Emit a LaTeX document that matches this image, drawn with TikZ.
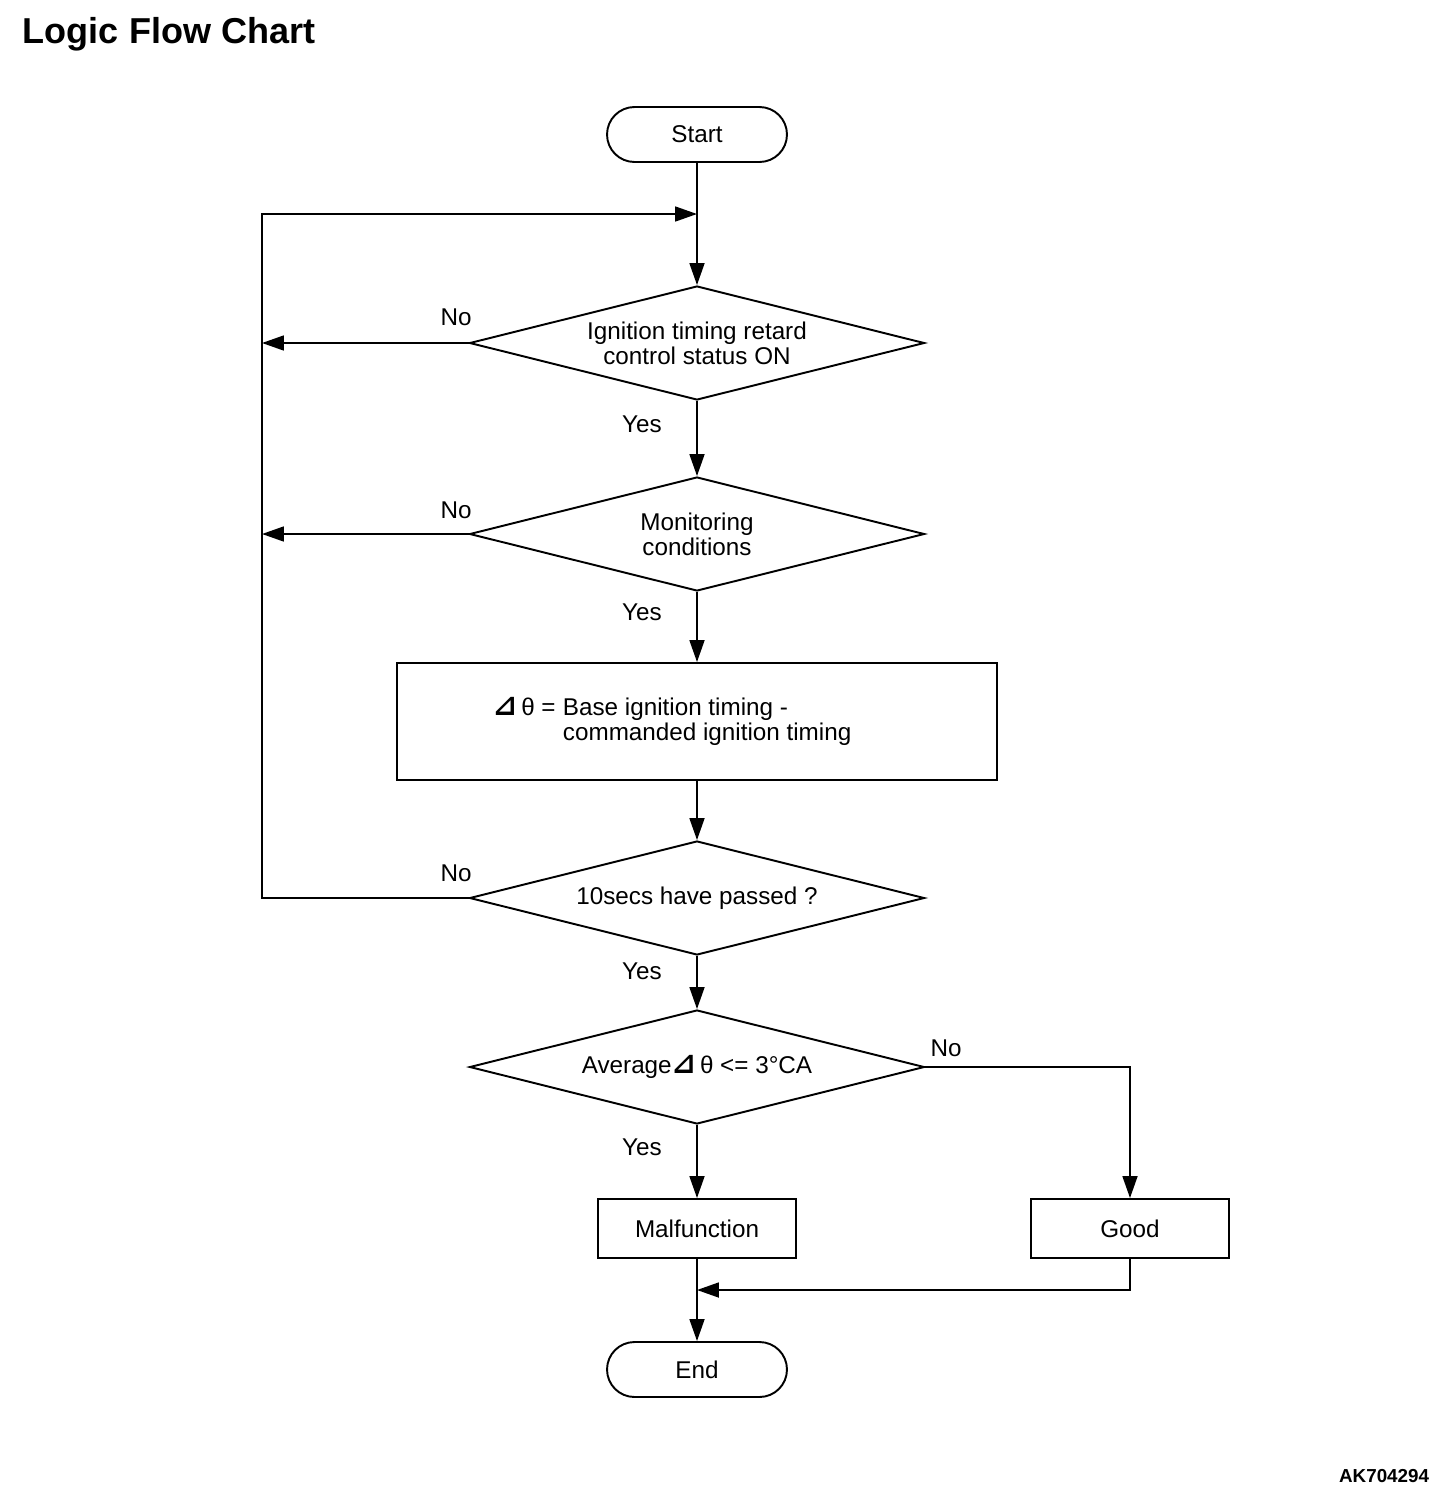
\documentclass[tikz,border=0pt]{standalone}
\usepackage{fontspec}
\setmainfont{Liberation Sans}
\newfontfamily\trifont{DejaVu Sans}
\usetikzlibrary{shapes.geometric,arrows.meta}
\newcommand{\dtheta}{{\trifont\bfseries\fontsize{16.5}{14}\selectfont ⊿}\,θ}
\begin{document}
\begin{tikzpicture}[x=0.02cm,y=-0.02cm,line width=1.1pt,>={Triangle[length=12.5pt,width=8.5pt]},font=\fontsize{13.8}{14.2}\selectfont]
		\tikzstyle{term}=[draw,rounded corners=0.55cm,minimum width=3.6cm,minimum height=1.1cm,inner sep=0pt,text depth=-1pt]
		\tikzstyle{test}=[draw,diamond,shape aspect=4,minimum width=9.1cm,minimum height=2.28cm,inner sep=0pt,align=center]
		\tikzstyle{proc}=[draw,minimum width=3.96cm,minimum height=1.18cm,inner sep=0pt]
		\useasboundingbox (0,0) rectangle (1456,1498);
		\node[anchor=base west,inner sep=0pt,font=\fontsize{20.5}{24}\selectfont\bfseries] (f_title) at (22,43) {Logic Flow Chart};
		\node[anchor=base east,inner sep=0pt,font=\fontsize{10.7}{12}\selectfont\bfseries] (f_code) at (1430,1482) {AK704294};
		\node[term] (f_start) at (697,134.5) {Start};
		\node[test] (f_1) at (697,343) {Ignition timing retard\\control status ON};
		\node[test] (f_2) at (697,534) {Monitoring\\conditions};
		\node[draw,minimum width=12.02cm,minimum height=2.34cm] (f_box) at (697,721.5) {};
		\node[anchor=west,align=left,inner sep=0pt] (f_calc) at (492,721) {\makebox[1.4cm][l]{\dtheta{} =}Base ignition timing -\\\hspace*{1.4cm}commanded ignition timing};
		\node[test] (f_3) at (697,898) {10secs have passed ?};
		\node[test] (f_4) at (697,1067) {Average\dtheta{} <= 3°CA};
		\node[proc] (f_bad) at (697,1228.5) {Malfunction};
		\node[proc] (f_good) at (1130,1228.5) {Good};
		\node[term] (f_end) at (697,1369.5) {End};
		\coordinate (l_top) at (262,214);
		\coordinate (l_1) at (262,343);
		\coordinate (l_2) at (262,534);
		\coordinate (l_3) at (262,898);
		\coordinate (j_top) at (697,214);
		\coordinate (g_turn) at (1130,1067);
		\coordinate (g_low) at (1130,1290);
		\coordinate (j_end) at (697,1290);
		\node (n_1) at (456,317) {No};
		\node (n_2) at (456,510) {No};
		\node (n_3) at (456,873) {No};
		\node (n_4) at (946,1048) {No};
		\node (y_1) at (642,424) {Yes};
		\node (y_2) at (642,612) {Yes};
		\node (y_3) at (642,971) {Yes};
		\node (y_4) at (642,1147) {Yes};
		\draw[->] (f_start) -- (f_1);
		\draw[->] (f_1) -- (f_2);
		\draw[->] (f_2) -- (f_box);
		\draw[->] (f_box) -- (f_3);
		\draw[->] (f_3) -- (f_4);
		\draw[->] (f_4) -- (f_bad);
		\draw[->] (f_bad) -- (f_end);
		\draw[->] (f_1.west) -- (l_1);
		\draw[->] (f_2.west) -- (l_2);
		\draw[->] (f_3.west) -- (l_3) -- (l_top) -- (j_top);
		\draw[->] (f_4.east) -- (g_turn) -- (f_good);
		\draw[->] (f_good) -- (g_low) -- (j_end);
	\end{tikzpicture}
\end{document}
